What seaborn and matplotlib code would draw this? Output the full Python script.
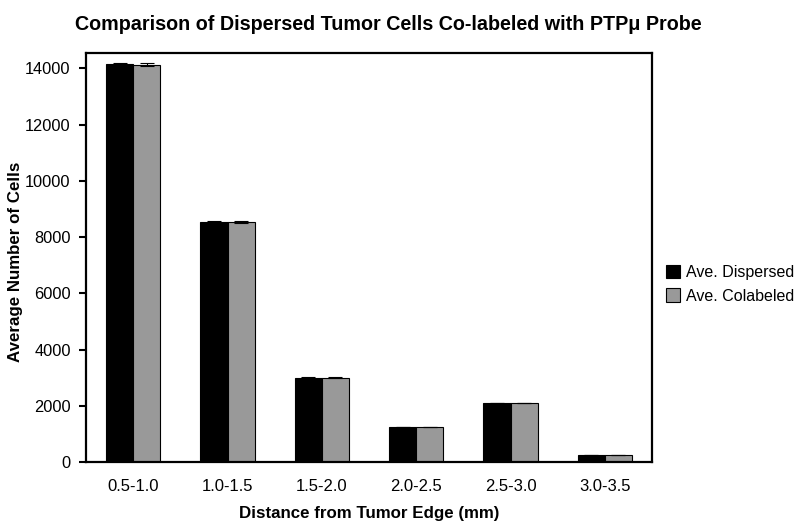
import pandas as pd
import numpy as np
import matplotlib
matplotlib.use('Agg')
import matplotlib.pyplot as plt
import seaborn as sns

distances = ['0.5-1.0', '1.0-1.5', '1.5-2.0', '2.0-2.5', '2.5-3.0', '3.0-3.5']
dispersed = [14150, 8545, 3000, 1245, 2100, 260]
colabeled = [14140, 8540, 2995, 1240, 2095, 255]
err_dispersed = [40, 25, 15, 10, 12, 5]
err_colabeled = [40, 25, 15, 10, 12, 5]
series_names = ['Ave. Dispersed', 'Ave. Colabeled']
series_colors = ['#000000', '#999999']

sns.set_style('white')
plt.rcParams['font.family'] = ['Liberation Sans', 'DejaVu Sans']
plt.rcParams['text.color'] = 'black'
plt.rcParams['axes.labelcolor'] = 'black'
plt.rcParams['xtick.color'] = 'black'
plt.rcParams['ytick.color'] = 'black'

df = pd.DataFrame({
    'Distance': distances * 2,
    'Cells': dispersed + colabeled,
    'Series': [series_names[0]] * len(distances) + [series_names[1]] * len(distances),
})

fig = plt.figure(figsize=(8, 5.26), dpi=100)
ax = fig.add_axes([0.1075, 0.1217, 0.7075, 0.7775])

width = 0.575
sns.barplot(data=df, x='Distance', y='Cells', hue='Series', order=distances,
            hue_order=series_names, palette=series_colors, width=width,
            edgecolor='black', linewidth=0.8, errorbar=None, ax=ax, saturation=1)

# small error bars on top of each bar
x = np.arange(len(distances))
for i, (vals, errs) in enumerate([(dispersed, err_dispersed), (colabeled, err_colabeled)]):
    offs = (i - 0.5) * width / 2
    ax.errorbar(x + offs, vals, yerr=errs, fmt='none', ecolor='black',
                elinewidth=0.8, capsize=5, capthick=0.8)

ax.set_xlim(-0.5, 5.5)
ax.set_ylim(0, 14550)
ax.set_yticks(range(0, 14001, 2000))
ax.tick_params(axis='y', length=5, width=1.5, labelsize=11.8, pad=6, left=True)
ax.tick_params(axis='x', length=0, labelsize=12, pad=12)
for s in ax.spines.values():
    s.set_visible(True)
    s.set_linewidth(1.6)
    s.set_color('black')

ax.set_xlabel('Distance from Tumor Edge (mm)', fontsize=12.2, fontweight='bold', labelpad=9)
ax.set_ylabel('Average Number of Cells', fontsize=12.2, fontweight='bold')
ax.yaxis.set_label_coords(-0.111, 0.49)
fig.suptitle('Comparison of Dispersed Tumor Cells Co-labeled with PTP\u03bc Probe',
             x=0.486, y=0.972, fontsize=14.2, fontweight='bold')

ax.legend(loc='center left', bbox_to_anchor=(1.01, 0.435), frameon=False,
          fontsize=11.5, handlelength=0.9, handleheight=0.9, handletextpad=0.4,
          labelspacing=0.55, borderpad=0)

fig.savefig('out.png', dpi=100)
